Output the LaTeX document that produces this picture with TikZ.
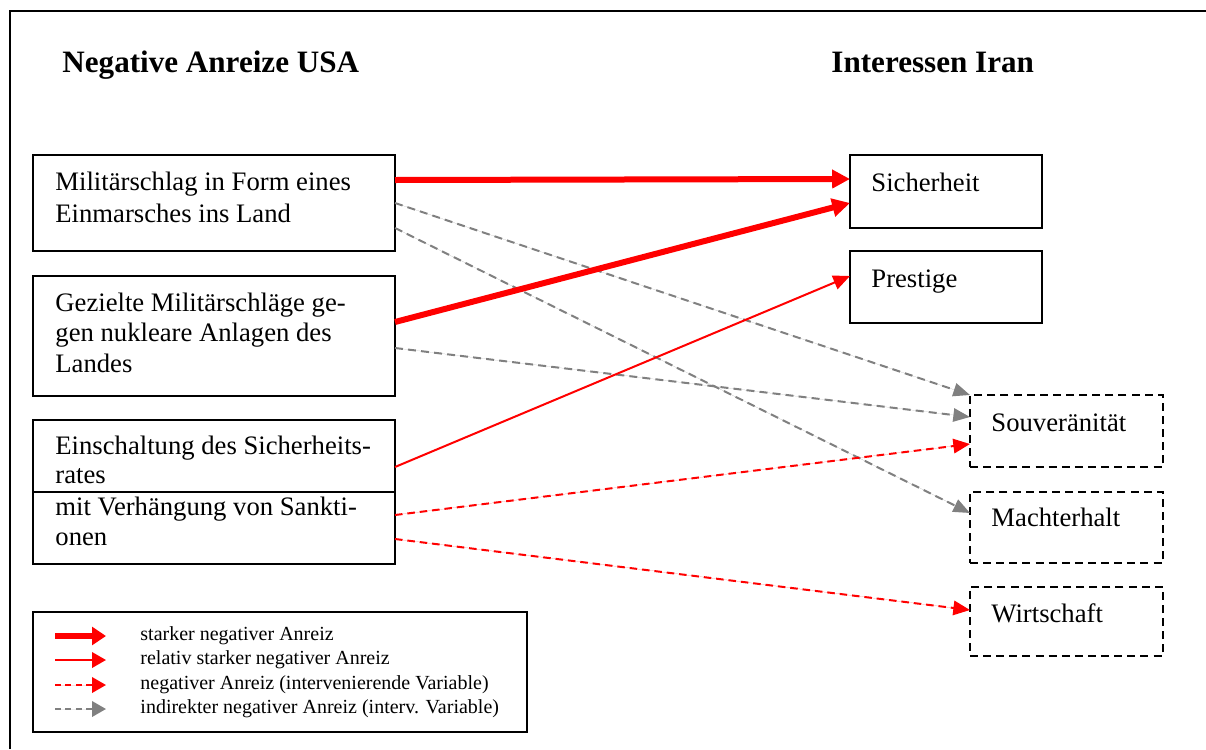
\documentclass[tikz,border=0pt]{standalone}
\usepackage{fontspec}
\setmainfont{Liberation Serif}
\usetikzlibrary{arrows.meta,calc}

\definecolor{strongred}{RGB}{255,0,0}
\definecolor{indirectgray}{RGB}{128,128,128}

\tikzset{
  box/.style={draw=black, line width=0.6pt, inner sep=0pt, outer sep=0pt, anchor=north west},
  dbox/.style={box, line width=0.7pt, dash pattern=on 3.6pt off 2.3pt},
  txt/.style={anchor=base west, inner sep=0pt, font=\fontsize{12}{13.8}\selectfont},
  headline/.style={anchor=base west, inner sep=0pt, font=\fontsize{14}{16}\selectfont\bfseries},
  legtxt/.style={anchor=base west, inner sep=0pt, font=\fontsize{9}{10.4}\selectfont},
  strongarrow/.style={draw=strongred, line width=2.7pt, -{Triangle[length=8pt,width=8pt]}, fill=strongred},
  mediumarrow/.style={draw=strongred, line width=0.9pt, -{Triangle[length=7.5pt,width=6.5pt]}, fill=strongred},
  intervarrow/.style={draw=strongred, line width=0.9pt, dash pattern=on 3.4pt off 2.2pt, -{Triangle[length=7.5pt,width=6.5pt]}, fill=strongred},
  indirectarrow/.style={draw=indirectgray, line width=0.9pt, dash pattern=on 3.6pt off 2.3pt, -{Triangle[length=7.5pt,width=6pt]}, fill=indirectgray},
}

\begin{document}
\begin{tikzpicture}[x=0.45pt, y=-0.45pt]
\useasboundingbox (0,0) rectangle (1206,749);

% outer frame (open to the right and bottom)
\draw[line width=0.9pt] (10,749) -- (10,11) -- (1206,11);

% headings
\node[headline] (hleft) at (62,72) {Negative Anreize USA};
\node[headline] (hright) at (831,72) {Interessen Iran};

% left column: measures
\node[box, minimum width=362*0.45pt, minimum height=96*0.45pt] (b1) at (33,155) {};
\node[box, minimum width=362*0.45pt, minimum height=120*0.45pt] (b2) at (33,276) {};
\node[box, minimum width=362*0.45pt, minimum height=144*0.45pt] (b3) at (33,420) {};
\draw[line width=0.6pt] (b3.west) -- (b3.east);

\node[txt] (b1a) at ($(b1.north west)+(22,35)$) {Militärschlag in Form eines};
\node[txt] (b1b) at ($(b1.north west)+(22,67)$) {Einmarsches ins Land};

\node[txt] (b2a) at ($(b2.north west)+(22,35)$) {Gezielte Militärschläge ge-};
\node[txt] (b2b) at ($(b2.north west)+(22,65)$) {gen nukleare Anlagen des};
\node[txt] (b2c) at ($(b2.north west)+(22,96)$) {Landes};

\node[txt] (b3a) at ($(b3.north west)+(22,34)$) {Einschaltung des Sicherheits-};
\node[txt] (b3b) at ($(b3.north west)+(22,63)$) {rates};
\node[txt] (b3c) at ($(b3.north west)+(22,95)$) {mit Verhängung von Sankti-};
\node[txt] (b3d) at ($(b3.north west)+(22,125)$) {onen};

% right column: interests
\node[box, minimum width=192*0.45pt, minimum height=73*0.45pt] (s1) at (850,155) {};
\node[box, minimum width=192*0.45pt, minimum height=72*0.45pt] (s2) at (850,251) {};
\node[dbox, minimum width=193*0.45pt, minimum height=72*0.45pt] (s3) at (970,395) {};
\node[dbox, minimum width=193*0.45pt, minimum height=71*0.45pt] (s4) at (970,492) {};
\node[dbox, minimum width=193*0.45pt, minimum height=69*0.45pt] (s5) at (970,587) {};

\node[txt] (s1t) at ($(s1.north west)+(21,36)$) {Sicherheit};
\node[txt] (s2t) at ($(s2.north west)+(21,36)$) {Prestige};
\node[txt] (s3t) at ($(s3.north west)+(21,36)$) {Souveränität};
\node[txt] (s4t) at ($(s4.north west)+(21,34)$) {Machterhalt};
\node[txt] (s5t) at ($(s5.north west)+(21,35)$) {Wirtschaft};

% connectors
\draw[indirectarrow] ($(b1.north east)+(0,48)$) -- (s3.north west);
\draw[indirectarrow] ($(b1.north east)+(0,73)$) -- ($(s4.north west)+(0,21)$);
\draw[indirectarrow] ($(b2.north east)+(0,72)$) -- ($(s3.north west)+(0,22)$);
\draw[intervarrow] ($(b3.north east)+(0,95)$) -- ($(s3.north west)+(0,49)$);
\draw[intervarrow] ($(b3.north east)+(0,119)$) -- ($(s5.north west)+(0,23)$);
\draw[mediumarrow] ($(b3.north east)+(0,47)$) -- ($(s2.north west)+(0,25)$);
\draw[strongarrow] ($(b1.north east)+(0,25)$) -- ($(s1.north west)+(0,24)$);
\draw[strongarrow] ($(b2.north east)+(0,46)$) -- ($(s1.north west)+(0,48)$);

% legend
\node[box, minimum width=494*0.45pt, minimum height=120*0.45pt] (leg) at (33,612) {};
\coordinate (l1s) at (55,636);  \coordinate (l1e) at (106,636);
\coordinate (l2s) at (55,660);  \coordinate (l2e) at (106,660);
\coordinate (l3s) at (55,685);  \coordinate (l3e) at (106,685);
\coordinate (l4s) at (55,709);  \coordinate (l4e) at (106,709);
\draw[strongarrow, -{Triangle[length=6.3pt,width=8pt]}] (l1s) -- (l1e);
\draw[mediumarrow, -{Triangle[length=6.3pt,width=7pt]}] (l2s) -- (l2e);
\draw[intervarrow, dash pattern=on 2.7pt off 2pt, -{Triangle[length=6.3pt,width=7pt]}] (l3s) -- (l3e);
\draw[indirectarrow, dash pattern=on 2.7pt off 2pt, -{Triangle[length=6.3pt,width=7pt]}] (l4s) -- (l4e);

\node[legtxt] (lt1) at (140,640) {starker negativer Anreiz};
\node[legtxt] (lt2) at (140,664) {relativ starker negativer Anreiz};
\node[legtxt] (lt3) at (140,689) {negativer Anreiz (intervenierende Variable)};
\node[legtxt] (lt4) at (140,713) {indirekter negativer Anreiz (interv. Variable)};
\end{tikzpicture}
\end{document}
